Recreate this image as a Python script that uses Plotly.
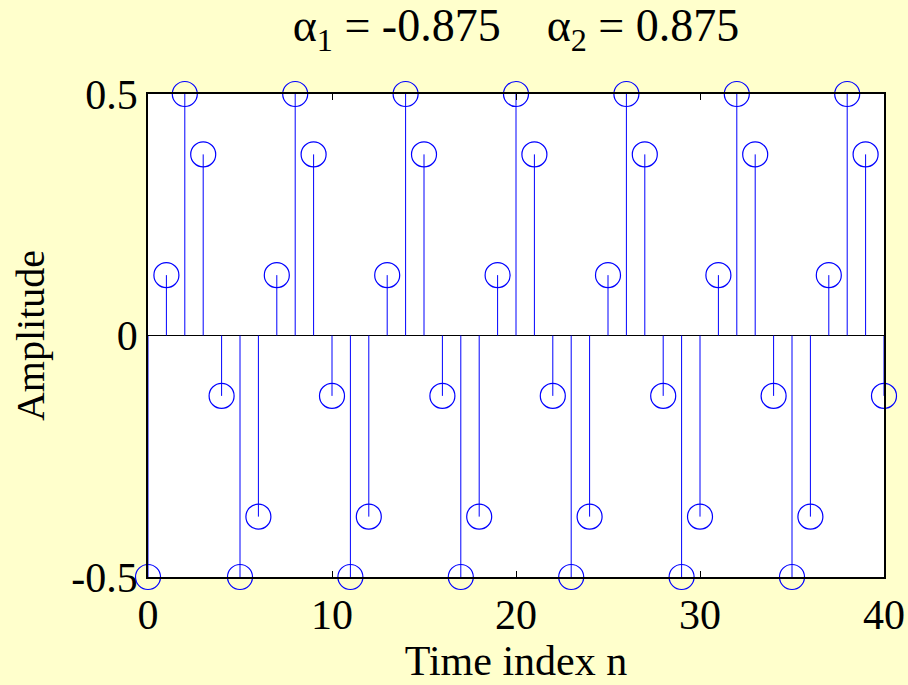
import plotly.graph_objects as go

# Time index and output samples of the second-order system
n = list(range(41))
amplitude = [
    -0.5,
    0.125, 0.5, 0.375, -0.125, -0.5, -0.375,
    0.125, 0.5, 0.375, -0.125, -0.5, -0.375,
    0.125, 0.5, 0.375, -0.125, -0.5, -0.375,
    0.125, 0.5, 0.375, -0.125, -0.5, -0.375,
    0.125, 0.5, 0.375, -0.125, -0.5, -0.375,
    0.125, 0.5, 0.375, -0.125, -0.5, -0.375,
    0.125, 0.5, 0.375, -0.125,
]

x_ticks = [0, 10, 20, 30, 40]
y_ticks = [-0.5, 0, 0.5]
y_tick_text = ["-0.5", "0", "0.5"]

title_text = ("\u03b1<sub>1</sub> = -0.875\u00a0\u00a0\u00a0\u00a0"
              "\u03b1<sub>2</sub> = 0.875")

# stems: vertical segments from zero to each sample value
stem_x, stem_y = [], []
for xi, yi in zip(n, amplitude):
    stem_x += [xi, xi, None]
    stem_y += [0, yi, None]

BLUE = "#0000FF"
FONT = "Liberation Serif"

fig = go.Figure()
fig.add_trace(go.Scatter(
    x=stem_x, y=stem_y, mode="lines",
    line=dict(color=BLUE, width=1),
    hoverinfo="skip", showlegend=False, cliponaxis=False,
))
fig.add_trace(go.Scatter(
    x=n, y=amplitude, mode="markers",
    marker=dict(symbol="circle-open", size=25, color=BLUE,
                line=dict(color=BLUE, width=1.2)),
    showlegend=False, cliponaxis=False,
))
# invisible companion trace on the top axis, which carries the plot title
fig.add_trace(go.Scatter(
    x=n, y=amplitude, xaxis="x2", mode="none",
    hoverinfo="skip", showlegend=False,
))

fig.update_layout(
    width=908, height=685,
    margin=dict(l=148, r=24, t=94, b=108, autoexpand=False),
    paper_bgcolor="#FFFFCC",
    plot_bgcolor="#FFFFFF",
    font=dict(family=FONT, size=42, color="#000000"),
    xaxis=dict(
        range=[0, 40], tickvals=x_ticks, automargin=False,
        ticks="inside", ticklen=6, tickcolor="#000000",
        showline=True, linecolor="#000000", linewidth=1.5, mirror="ticks",
        showgrid=False, zeroline=False,
        tickfont=dict(family=FONT, size=42),
        title=dict(text="Time index n", font=dict(family=FONT, size=42),
                   standoff=4),
    ),
    xaxis2=dict(
        overlaying="x", side="top", range=[0, 40], automargin=False,
        showticklabels=False, ticks="", showline=False, showgrid=False,
        zeroline=False,
        title=dict(text=title_text, font=dict(family=FONT, size=46),
                   standoff=37),
    ),
    yaxis=dict(
        range=[-0.5, 0.5], tickvals=y_ticks, ticktext=y_tick_text,
        automargin=False,
        ticks="inside", ticklen=6, tickcolor="#000000",
        showline=True, linecolor="#000000", linewidth=1.5, mirror="ticks",
        showgrid=False,
        zeroline=True, zerolinecolor="#000000", zerolinewidth=1.2,
        tickfont=dict(family=FONT, size=42),
        title=dict(text="Amplitude", font=dict(family=FONT, size=40),
                   standoff=14),
    ),
)

fig.write_html("out.html")
